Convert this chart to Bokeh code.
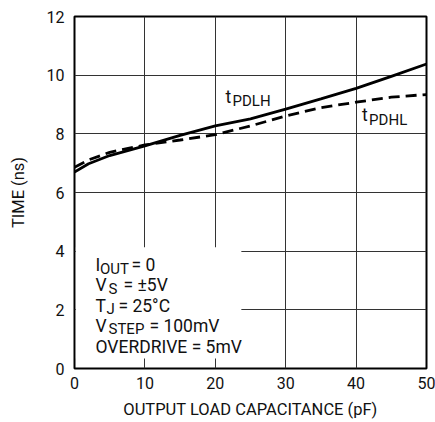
from bokeh.plotting import figure
from bokeh.models import Range1d, ColumnDataSource, FixedTicker
from bokeh.core.properties import value
from bokeh.embed import file_html
from bokeh.resources import INLINE

# ---- data ----
cap_pf = [0, 2, 5, 10, 15, 20, 25, 30, 35, 40, 45, 50]
t_pdlh = [6.70, 6.98, 7.26, 7.59, 7.95, 8.27, 8.51, 8.84, 9.19, 9.55, 9.96, 10.38]
t_pdhl = [6.86, 7.11, 7.37, 7.62, 7.79, 7.97, 8.27, 8.61, 8.89, 9.08, 9.25, 9.34]
x_ticks = [0, 10, 20, 30, 40, 50]
y_ticks = [0, 2, 4, 6, 8, 10, 12]

FONT = "Roboto"
TXT = "#111111"

p = figure(width=435, height=422, output_backend="svg", toolbar_location=None,
           x_range=Range1d(0, 50), y_range=Range1d(0, 12),
           min_border_left=74, min_border_top=16, min_border_right=9, min_border_bottom=54)

p.outline_line_color = "black"
p.outline_line_width = 2
p.background_fill_color = "white"
p.border_fill_color = "white"

for ax in (p.xaxis[0], p.yaxis[0]):
    ax.axis_line_color = None
    ax.major_tick_line_color = None
    ax.minor_tick_line_color = None
    ax.major_tick_out = 0
    ax.major_tick_in = 0
    ax.minor_tick_out = 0
    ax.minor_tick_in = 0
    ax.major_label_text_font = FONT
    ax.major_label_text_font_size = "16px"
    ax.major_label_text_color = TXT
    ax.axis_label_text_font = FONT
    ax.axis_label_text_font_size = "16.5px"
    ax.axis_label_text_font_style = "normal"
    ax.axis_label_text_color = TXT

p.xaxis.ticker = FixedTicker(ticks=x_ticks)
p.yaxis.ticker = FixedTicker(ticks=y_ticks)
p.xaxis.axis_label = "OUTPUT LOAD CAPACITANCE (pF)"
p.yaxis.axis_label = "TIME (ns)"
p.xaxis.major_label_standoff = 8
p.yaxis.major_label_standoff = 10
p.xaxis.axis_label_standoff = 8
p.yaxis.axis_label_standoff = 16

p.grid.grid_line_color = "#333333"
p.grid.grid_line_width = 1
p.xgrid.ticker = FixedTicker(ticks=x_ticks)
p.ygrid.ticker = FixedTicker(ticks=y_ticks)

# white mask behind the condition text block
p.quad(left=[0.2], right=[23.7], bottom=[0.34], top=[4.13],
       fill_color="white", line_color=None)

# curves
p.line(cap_pf, t_pdlh, line_color="black", line_width=2.8)
p.line(cap_pf, t_pdhl, line_color="black", line_width=2.8, line_dash="11 6")

# text pieces: main text and subscripts
main_src = ColumnDataSource(dict(
    x=[21.45, 40.84, 2.98, 8.1, 2.98, 6.96, 2.98, 6.25, 2.98, 10.65, 2.98],
    y=[9.27, 8.655, 3.517, 3.517, 2.836, 2.836, 2.143, 2.143, 1.451, 1.451, 0.735],
    text=["t", "t", "I", "= 0", "V", "= \u00b15V", "T", "= 25\u00b0C", "V", "= 100mV",
          "OVERDRIVE = 5mV"],
))
sub_src = ColumnDataSource(dict(
    x=[22.45, 41.85, 3.62, 4.83, 4.55, 4.83],
    y=[9.11, 8.485, 3.398, 2.717, 2.024, 1.332],
    text=["PDLH", "PDHL", "OUT", "S", "J", "STEP"],
))
p.text(x="x", y="y", text="text", source=main_src, text_font=value(FONT),
       text_font_size=value("17.5px"), text_baseline="alphabetic", text_align="left",
       text_color=TXT)
p.text(x="x", y="y", text="text", source=sub_src, text_font=value(FONT),
       text_font_size=value("15px"), text_baseline="alphabetic", text_align="left",
       text_color=TXT)

open("out.html", "w").write(file_html(p, INLINE))
